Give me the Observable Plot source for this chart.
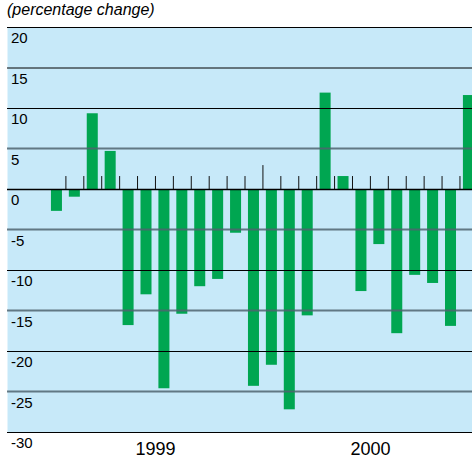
<!DOCTYPE html>
<html>
<head>
<meta charset="utf-8">
<script src="https://cdn.jsdelivr.net/npm/d3@7"></script>
<script src="https://cdn.jsdelivr.net/npm/@observablehq/plot@0.6"></script>
<style>
  html, body { margin: 0; padding: 0; background: #ffffff; }
  body { width: 472px; height: 459px; overflow: hidden; font-family: "Liberation Sans", Arial, sans-serif; }
  #subtitle { height: 20px; line-height: 20px; font-size: 16px; font-style: italic; padding-left: 7px; color: #000; white-space: nowrap; }
  svg { display: block; }
</style>
</head>
<body>
<div id="subtitle">(percentage change)</div>
<div id="chart"></div>
<script>
// Monthly data, 1999–2000
const years = ["1999","1999","1999","1999","1999","1999","1999","1999","1999","1999","1999","1999",
               "2000","2000","2000","2000","2000","2000","2000","2000","2000","2000","2000","2000"];
const months = ["Jan","Feb","Mar","Apr","May","Jun","Jul","Aug","Sep","Oct","Nov","Dec",
                "Jan","Feb","Mar","Apr","May","Jun","Jul","Aug","Sep","Oct","Nov","Dec"];
const values = [-2.7, -0.95, 9.35, 4.7, -16.8, -13.0, -24.6, -15.4, -12.0, -11.1, -5.4, -24.3,
                -21.7, -27.2, -15.6, 11.9, 1.6, -12.6, -6.8, -17.8, -10.6, -11.6, -16.9, 11.6];
const yTicks = [20, 15, 10, 5, 0, -5, -10, -15, -20, -25, -30];
const softLines = [5, -5, -15, -25];

const rows = values.map((v, i) => ({i, year: years[i], month: months[i], value: v}));
// boundaries between consecutive months
const bounds = rows.slice(1).map((d, k) => ({x: (rows[k].i + d.i) / 2, newYear: d.year !== rows[k].year}));
// year labels centred on their months
const yearLabels = Array.from(d3.rollup(rows, g => d3.mean(g, d => d.i), d => d.year), ([year, x]) => ({year, x}));

const chart = Plot.plot({
  width: 472,
  height: 439,
  marginTop: 7,
  marginBottom: 27,
  marginLeft: 7,
  marginRight: 0,
  style: {fontFamily: "'Liberation Sans', Arial, sans-serif", background: "transparent", overflow: "visible"},
  x: {type: "linear", domain: [-2.76, 23.2], axis: null},
  y: {domain: [-30, 20], axis: null},
  marks: [
    Plot.frame({fill: "#c7e9f9", stroke: "none"}),
    Plot.rectY(rows, {x1: d => d.i - 0.5, x2: d => d.i + 0.5, y1: 0, y2: "value", fill: "#00a651", insetLeft: 3.45, insetRight: 3.45}),
    Plot.ruleY(yTicks.filter(t => softLines.includes(t)), {y: d => d, stroke: "#4f6470", strokeWidth: 2, strokeOpacity: 0.85, dy: -0.5}),
    Plot.ruleY(yTicks.filter(t => !softLines.includes(t)), {y: d => d, stroke: "#000", strokeWidth: d => d === 0 ? 1.5 : 1}),
    Plot.ruleX(bounds, {x: "x", y1: 0, y2: d => d.newYear ? 2.95 : 1.6, stroke: "#111", strokeWidth: 1}),
    Plot.text(yTicks, {y: d => d, text: d => String(d), frameAnchor: "left", textAnchor: "start", dx: 3.5, dy: 11, fontSize: 15, fill: "#000"}),
    Plot.text(yearLabels, {x: "x", text: "year", frameAnchor: "bottom", lineAnchor: "top", dy: 10, fontSize: 18, fill: "#000"})
  ]
});
document.getElementById("chart").appendChild(chart);
</script>
</body>
</html>
